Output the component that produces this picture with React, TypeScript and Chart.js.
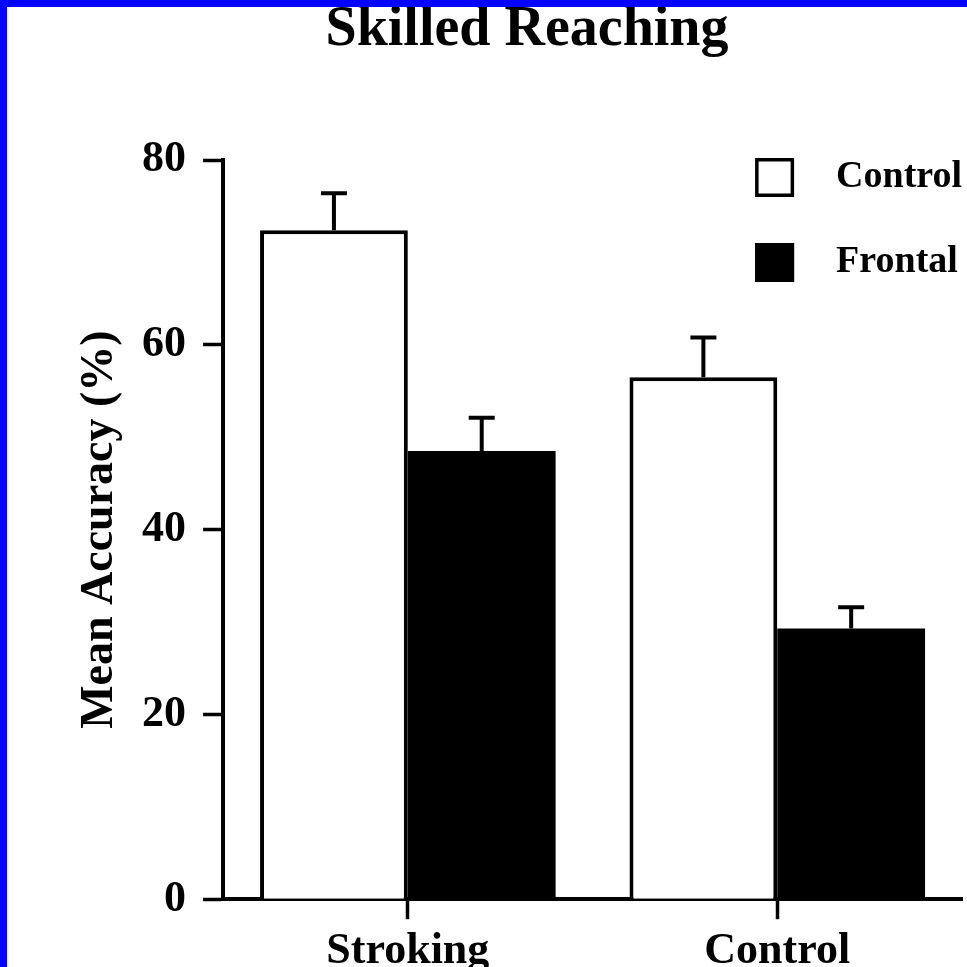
import React, { useEffect, useRef } from 'react';
import { Chart, registerables } from 'chart.js';

Chart.register(...registerables);

const categories = ['Stroking', 'Control'];
const seriesNames = ['Control', 'Frontal'];
const controlMeans = [72.4, 56.5];
const controlErrors = [4.0, 4.3];
const frontalMeans = [48.5, 29.3];
const frontalErrors = [3.6, 2.3];
const yTicks = [0, 20, 40, 60, 80];

const chartTitle = 'Skilled Reaching';
const yAxisTitle = 'Mean Accuracy (%)';

const SERIF = "'Liberation Serif', 'Times New Roman', serif";

const errorBarPlugin = {
  id: 'errorBars',
  afterDatasetsDraw(chart: any) {
    const ctx = chart.ctx;
    const yScale = chart.scales.y;
    chart.data.datasets.forEach((ds: any, di: number) => {
      const meta = chart.getDatasetMeta(di);
      meta.data.forEach((bar: any, i: number) => {
        const v = ds.data[i];
        const e = ds.errors[i];
        const top = yScale.getPixelForValue(v + e);
        ctx.save();
        ctx.strokeStyle = '#000';
        ctx.lineWidth = 4;
        ctx.lineCap = 'butt';
        ctx.beginPath();
        ctx.moveTo(bar.x, bar.y);
        ctx.lineTo(bar.x, top);
        ctx.moveTo(bar.x - 13, top);
        ctx.lineTo(bar.x + 13, top);
        ctx.stroke();
        ctx.restore();
      });
    });
  },
};

const insideLegendPlugin = {
  id: 'insideLegend',
  afterDraw(chart: any) {
    const ctx = chart.ctx;
    const area = chart.chartArea;
    const box = 39;
    const bx = area.left + 532;
    chart.data.datasets.forEach((ds: any, i: number) => {
      const by = area.top - 2 + i * 85;
      ctx.save();
      ctx.fillStyle = ds.backgroundColor;
      ctx.fillRect(bx, by, box, box);
      ctx.strokeStyle = '#000';
      ctx.lineWidth = 3.5;
      ctx.strokeRect(bx + 1.75, by + 1.75, box - 3.5, box - 3.5);
      ctx.fillStyle = '#000';
      ctx.font = `bold 38px ${SERIF}`;
      ctx.textAlign = 'left';
      ctx.textBaseline = 'middle';
      ctx.fillText(ds.label, bx + 81, by + box / 2);
      ctx.restore();
    });
  },
};

export default function App() {
  const canvasRef = useRef<HTMLCanvasElement | null>(null);

  useEffect(() => {
    const canvas = canvasRef.current;
    if (!canvas) return;
    const chart = new Chart(canvas, {
      type: 'bar',
      data: {
        labels: categories,
        datasets: [
          {
            label: seriesNames[0],
            data: controlMeans,
            errors: controlErrors,
            backgroundColor: '#ffffff',
            borderColor: '#000000',
            borderWidth: 4,
            barPercentage: 1,
            categoryPercentage: 0.8,
          } as any,
          {
            label: seriesNames[1],
            data: frontalMeans,
            errors: frontalErrors,
            backgroundColor: '#000000',
            borderColor: '#000000',
            borderWidth: 0,
            barPercentage: 1,
            categoryPercentage: 0.8,
          } as any,
        ],
      },
      options: {
        responsive: false,
        animation: false,
        devicePixelRatio: 1,
        layout: { padding: { left: 85, right: 5, top: 0, bottom: 0 } },
        plugins: {
          legend: { display: false },
          tooltip: { enabled: false },
          title: {
            display: true,
            text: chartTitle,
            color: '#000',
            font: { family: SERIF, size: 56, weight: 'bold', lineHeight: 0.75 },
            padding: { top: 3, bottom: 108 },
          },
        },
        scales: {
          x: {
            z: 1,
            offset: true,
            grid: {
              offset: false,
              drawOnChartArea: false,
              drawTicks: true,
              tickLength: 20,
              tickWidth: 3.5,
              tickColor: '#000',
            },
            border: { display: true, color: '#000', width: 4 },
            ticks: {
              color: '#000',
              padding: 6,
              font: { family: SERIF, size: 44, weight: 'bold' },
            },
          },
          y: {
            min: 0,
            max: 80,
            afterBuildTicks: (scale: any) => {
              scale.ticks = yTicks.map((v) => ({ value: v }));
            },
            grid: {
              drawOnChartArea: false,
              drawTicks: true,
              tickLength: 20,
              tickWidth: 3.5,
              tickColor: '#000',
            },
            border: { display: true, color: '#000', width: 4 },
            ticks: {
              color: '#000',
              padding: 17,
              font: { family: SERIF, size: 44, weight: 'bold' },
            },
            title: {
              display: true,
              text: yAxisTitle,
              color: '#000',
              font: { family: SERIF, size: 46, weight: 'bold', lineHeight: 0.35 },
              padding: { top: 0, bottom: 17 },
            },
          },
        },
      } as any,
      plugins: [errorBarPlugin, insideLegendPlugin],
    });
    return () => chart.destroy();
  }, []);

  return (
    <div
      style={{
        position: 'fixed',
        left: 0,
        top: 0,
        right: 0,
        bottom: 0,
        background: '#0000ff',
        overflow: 'hidden',
      }}
    >
      <div
        style={{
          position: 'absolute',
          left: 7,
          top: 7,
          width: 960,
          height: 977,
          background: '#ffffff',
        }}
      >
        <canvas ref={canvasRef} width={960} height={977} style={{ display: 'block' }} />
      </div>
    </div>
  );
}
